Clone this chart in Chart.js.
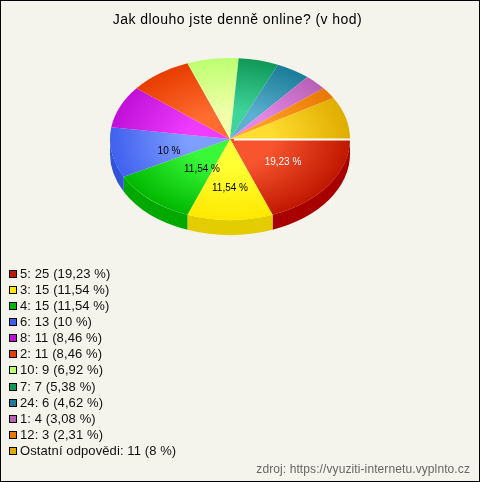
<!DOCTYPE html>
<html>
<head>
<meta charset="utf-8">
<script src="https://cdn.jsdelivr.net/npm/chart.js@4"></script>
<style>
html, body { margin: 0; padding: 0; background: #f5f4ec; }
#wrap { width: 480px; height: 482px; position: relative; }
</style>
</head>
<body>
<div id="wrap"><canvas id="chart" width="480" height="482"></canvas></div>
<script>
const categories = ["5", "3", "4", "6", "8", "2", "10", "7", "24", "1", "12", "Ostatní odpovědi"];
const counts = [25, 15, 15, 13, 11, 11, 9, 7, 6, 4, 3, 11];
const percents = ["19,23", "11,54", "11,54", "10", "8,46", "8,46", "6,92", "5,38", "4,62", "3,08", "2,31", "8"];
const innerColors = ["#f8552f", "#ffff33", "#38f838", "#7f9fff", "#f03cff", "#ff6c30", "#f0ffa8", "#40d49a", "#5cb0d0", "#e488e4", "#ff9c24", "#ffdc30"];
const outerColors = ["#c01800", "#ffe800", "#00b800", "#4060f0", "#c010d8", "#e83c00", "#bcff70", "#0f9858", "#1a7c98", "#b860b8", "#e87800", "#e0ac00"];
const sideColors = ["#a80000", "#e3cc00", "#00a800", "#2f54d6", "#a000b8", "#c03000", "#9cd858", "#0a8048", "#146880", "#985098", "#c06000", "#c09000"];
const labelColors = ["#ffffff", "#000000", "#000000", "#000000"];
const labelOffsets = [[53, 23.5], [0, 49], [-28, 30.5], [-61, 12.5]]; // from pie centre, the labels do not sit on the slice middle

const squash = 0.675, depth = 15;

const pie3d = {
    id: "pie3d",
    beforeDatasetsDraw(chart) {
        const ctx = chart.ctx, arcs = chart.getDatasetMeta(0).data;
        const cx = arcs[0].x, cy = arcs[0].y, r = arcs[0].outerRadius;
        // side wall of the slices facing the viewer
        arcs.forEach((arc, i) => {
            const a1 = Math.max(arc.startAngle, 0), a2 = Math.min(arc.endAngle, Math.PI);
            if (a1 >= a2) return;
            ctx.beginPath();
            ctx.ellipse(cx, cy, r, r * squash, 0, a1, a2);
            ctx.ellipse(cx, cy + depth, r, r * squash, 0, a2, a1, true);
            ctx.closePath();
            ctx.fillStyle = sideColors[i];
            ctx.fill();
        });
        ctx.save();
        ctx.translate(0, cy);
        ctx.scale(1, squash);
        ctx.translate(0, -cy);
    },
    afterDatasetsDraw(chart) {
        const ctx = chart.ctx, arcs = chart.getDatasetMeta(0).data;
        ctx.restore();
        const cx = arcs[0].x, cy = arcs[0].y, r = arcs[0].outerRadius;
        // gap of the pulled-out first slice
        ctx.strokeStyle = "#ffffff";
        ctx.lineWidth = 2;
        ctx.beginPath();
        ctx.moveTo(cx + 4, cy + 0.5);
        ctx.lineTo(cx + r + 1, cy + 0.5);
        ctx.stroke();
        // percent labels
        ctx.font = "10px 'Liberation Sans'";
        ctx.textAlign = "center";
        ctx.textBaseline = "middle";
        labelOffsets.forEach((o, i) => {
            ctx.fillStyle = labelColors[i];
            ctx.fillText(percents[i] + " %", cx + o[0], cy + o[1]);
        });
        // legend rows
        ctx.textAlign = "left";
        ctx.font = "13px 'Liberation Sans'";
        ctx.letterSpacing = "0.1px";
        categories.forEach((c, i) => {
            const y = 274 + i * 16.08;
            ctx.fillStyle = outerColors[i];
            ctx.fillRect(9.5, Math.round(y) - 3.5, 7, 7);
            ctx.strokeStyle = "#000000";
            ctx.lineWidth = 1;
            ctx.strokeRect(9.5, Math.round(y) - 3.5, 7, 7);
            ctx.fillStyle = "#111111";
            ctx.fillText(c + ": " + counts[i] + " (" + percents[i] + " %)", 20, Math.round(y));
        });
        // source note
        ctx.textAlign = "right";
        ctx.fillStyle = "#666666";
        ctx.font = "12px 'Liberation Sans'";
        ctx.fillText("zdroj: https://vyuziti-internetu.vyplnto.cz", 470, 470);
        // chart title
        ctx.textAlign = "center";
        ctx.fillStyle = "#000000";
        ctx.font = "14px 'Liberation Sans'";
        ctx.letterSpacing = "0.45px";
        ctx.fillText("Jak dlouho jste denně online? (v hod)", 237.5, 20);
        ctx.letterSpacing = "0px";
        // frame
        ctx.strokeStyle = "#000000";
        ctx.lineWidth = 1;
        ctx.strokeRect(0.5, 0.5, 479, 481);
    }
};

new Chart(document.getElementById("chart"), {
    type: "pie",
    plugins: [pie3d],
    data: {
        labels: categories,
        datasets: [{
            data: counts,
            clip: false,
            borderWidth: 0,
            backgroundColor: (c) => {
                const area = c.chart.chartArea;
                if (!area) return outerColors[c.dataIndex];
                const x = (area.left + area.right) / 2, y = (area.top + area.bottom) / 2;
                const g = c.chart.ctx.createRadialGradient(x, y, 0, x, y, (area.right - area.left) / 2);
                g.addColorStop(0, innerColors[c.dataIndex]);
                g.addColorStop(0.35, innerColors[c.dataIndex]);
                g.addColorStop(1, outerColors[c.dataIndex]);
                return g;
            }
        }]
    },
    options: {
        responsive: false,
        animation: false,
        rotation: 90,
        layout: { padding: { left: 110, right: 130, top: 19, bottom: 223 } },
        plugins: {
            legend: { display: false },
            tooltip: { enabled: false },
            title: { display: false }
        }
    }
});
</script>
</body>
</html>
